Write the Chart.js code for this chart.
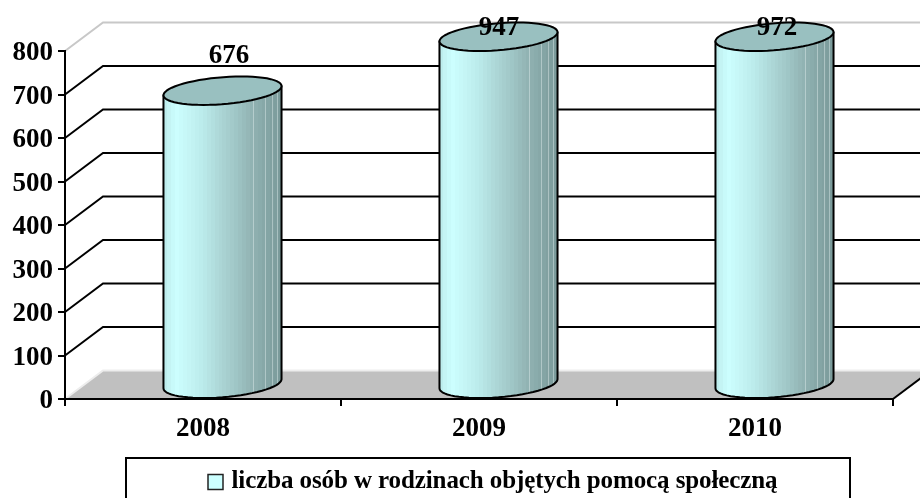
<!DOCTYPE html>
<html><head><meta charset="utf-8">
<style>html,body{margin:0;padding:0;background:#fff;overflow:hidden}#w{width:920px;height:498px}</style>
<script src="https://cdn.jsdelivr.net/npm/chart.js@4"></script>
</head><body><div id="w"><canvas id="c" width="920" height="498"></canvas></div>
<script>
const categories = ['2008', '2009', '2010'];
const seriesName = 'liczba osób w rodzinach objętych pomocą społeczną';
const seriesValues = [676, 947, 972];
const yTicks = [0, 100, 200, 300, 400, 500, 600, 700, 800];

const SERIF = '"Liberation Serif","Times New Roman",serif';
const DEPTH_X = 38, DEPTH_Y = 28.5;
const LABEL_DX = [7, 1, 3];

const SHADES = [[0,185,233,233],[.05,196,244,244],[.11,204,255,255],[.2,198,247,247],[.32,188,236,236],
  [.46,174,217,217],[.6,161,200,200],[.74,146,180,180],[.88,132,165,165],[1,122,153,153]];
function shade(p){
  for(let i=1;i<SHADES.length;i++){
    if(p<=SHADES[i][0]){
      const a=SHADES[i-1],b=SHADES[i],k=(p-a[0])/(b[0]-a[0]);
      return 'rgb('+[1,2,3].map(j=>Math.round(a[j]+(b[j]-a[j])*k)).join(',')+')';
    }
  }
  return 'rgb(122,153,153)';
}

class CylinderBar extends Chart.BarElement {
  draw(ctx){
    const chart = Chart.getChart(ctx.canvas);
    const area = chart.chartArea;
    const a = this.width/2, bx = DEPTH_X/2, by = DEPTH_Y/2;
    const cx = this.x + bx + 0.5;
    const baseY = this.base - by;
    const topY = Math.max(this.y, area.top) - by;
    const pt = (cy,t)=>[cx + a*Math.cos(t) + bx*Math.sin(t), cy - by*Math.sin(t)];
    const t0 = Math.atan2(bx,a);
    const half = Math.hypot(a,bx);
    const N = 30;
    ctx.save();
    const body = new Path2D();
    let p = pt(topY,t0+Math.PI); body.moveTo(p[0],p[1]);
    for(let i=0;i<=N;i++){ p = pt(baseY,t0+Math.PI+Math.PI*i/N); body.lineTo(p[0],p[1]); }
    p = pt(topY,t0); body.lineTo(p[0],p[1]);
    body.closePath();
    const bands = 30, g = ctx.createLinearGradient(cx-half,0,cx+half,0);
    for(let i=0;i<bands;i++){ const c=shade((i+.5)/bands); g.addColorStop(i/bands,c); g.addColorStop((i+1)/bands,c); }
    ctx.fillStyle = g; ctx.fill(body);
    // faint vertical seams of the faceted surface
    ctx.save(); ctx.clip(body);
    ctx.strokeStyle='rgba(235,245,245,.4)'; ctx.lineWidth=1;
    [.76,.86,.92,.96].forEach(f=>{
      const sx=Math.round(cx-half+2*half*f)+.5;
      ctx.beginPath(); ctx.moveTo(sx,topY); ctx.lineTo(sx,baseY+by); ctx.stroke();
    });
    ctx.restore();
    ctx.strokeStyle = '#000'; ctx.lineWidth = 2; ctx.lineJoin='round'; ctx.stroke(body);
    ctx.beginPath();
    for(let i=0;i<N*2;i++){ p = pt(topY,Math.PI*i/N); i?ctx.lineTo(p[0],p[1]):ctx.moveTo(p[0],p[1]); }
    ctx.closePath();
    ctx.fillStyle = '#99C0C0'; ctx.fill(); ctx.stroke();
    ctx.restore();
  }
}
CylinderBar.id = 'cylinderBar';
CylinderBar.defaults = Chart.BarElement.defaults;
CylinderBar.defaultRoutes = Chart.BarElement.defaultRoutes;

class CylinderController extends Chart.BarController {}
CylinderController.id = 'cylinder';
CylinderController.defaults = Object.assign({}, Chart.BarController.defaults, {dataElementType:'cylinderBar'});
CylinderController.overrides = Chart.BarController.overrides;
Chart.register(CylinderBar, CylinderController);

const walls = {
  id:'walls',
  afterLayout(chart){
    const L = chart.legend;
    L.left = 204; L.right = L.left + L.width; L.top = 465.5; L.bottom = L.top + L.height;
    if(!L._spaced){
      const d = L.draw;
      L.draw = function(x){
        const c=chart.ctx, f=c.fillText;
        c.save(); c.letterSpacing='-0.1px';
        c.fillText=function(t,px,py,m){ m===undefined ? f.call(c,t,px-4,py) : f.call(c,t,px-4,py,m); };
        d.call(this,x);
        delete c.fillText;
        c.restore();
      };
      L._spaced = true;
    }
  },
  beforeDraw(chart){
    const c = chart.ctx, A = chart.chartArea, y = chart.scales.y;
    c.save();
    c.fillStyle = '#C0C0C0';
    c.beginPath(); c.moveTo(A.left,A.bottom); c.lineTo(A.left+DEPTH_X,A.bottom-DEPTH_Y);
    c.lineTo(A.right+DEPTH_X,A.bottom-DEPTH_Y); c.lineTo(A.right,A.bottom); c.closePath(); c.fill();
    yTicks.forEach(v=>{
      const py = y.getPixelForValue(v), edge = (v===0||v===800);
      c.strokeStyle = v===0 ? '#EDEDED' : edge ? '#C8C8C8' : '#000';
      c.lineWidth = 2;
      c.beginPath(); c.moveTo(A.left,py); c.lineTo(A.left+DEPTH_X,py-DEPTH_Y); c.lineTo(A.right+DEPTH_X,py-DEPTH_Y); c.stroke();
    });
    c.strokeStyle='#000'; c.lineWidth=2;
    c.beginPath(); c.moveTo(A.right,A.bottom); c.lineTo(A.right+DEPTH_X,A.bottom-DEPTH_Y); c.stroke();
    c.lineWidth=2; c.strokeRect(126,458,724,50);
    c.restore();
  },
  afterDatasetsDraw(chart){
    const c = chart.ctx, meta = chart.getDatasetMeta(0), A = chart.chartArea;
    c.save();
    c.font = 'bold 27px '+SERIF; c.fillStyle='#000'; c.textAlign='center'; c.textBaseline='middle';
    meta.data.forEach((el,i)=>{
      const py = Math.max(el.y - 49, A.top - 23);
      c.fillText(String(seriesValues[i]), el.x + DEPTH_X/2 + LABEL_DX[i], py);
    });
    c.restore();
  }
};

new Chart(document.getElementById('c'),{
  type:'cylinder',
  data:{labels:categories,datasets:[{
    label:seriesName,data:seriesValues,backgroundColor:'#CCFFFF',borderColor:'#222',borderWidth:1.5,
    clip:false,barPercentage:.405,categoryPercentage:1
  }]},
  options:{
    responsive:false,animation:false,
    layout:{padding:{top:51,right:27,left:0,bottom:0}},
    plugins:{
      tooltip:{enabled:false},
      legend:{position:'chartArea',align:'start',
        labels:{boxWidth:15,boxHeight:15,padding:4,color:'#000',font:{family:SERIF,weight:'bold',size:25}}}
    },
    scales:{
      x:{type:'category',offset:true,
        afterFit(s){s.height=99;},
        grid:{display:true,offset:true,drawOnChartArea:false,tickLength:7,color:'#000',lineWidth:2},
        border:{color:'#000',width:2},
        ticks:{color:'#000',padding:7,maxRotation:0,font:{family:SERIF,weight:'bold',size:27}}},
      y:{type:'linear',min:0,max:800,
        afterFit(s){s.width=65;},
        afterBuildTicks(s){s.ticks=yTicks.map(v=>({value:v}));},
        grid:{display:true,drawOnChartArea:false,tickLength:7,color:'#000',lineWidth:2},
        border:{color:'#000',width:2},
        ticks:{color:'#000',padding:5,labelOffset:2.5,font:{family:SERIF,weight:'bold',size:27}}}
    }
  },
  plugins:[walls]
});
</script></body></html>
